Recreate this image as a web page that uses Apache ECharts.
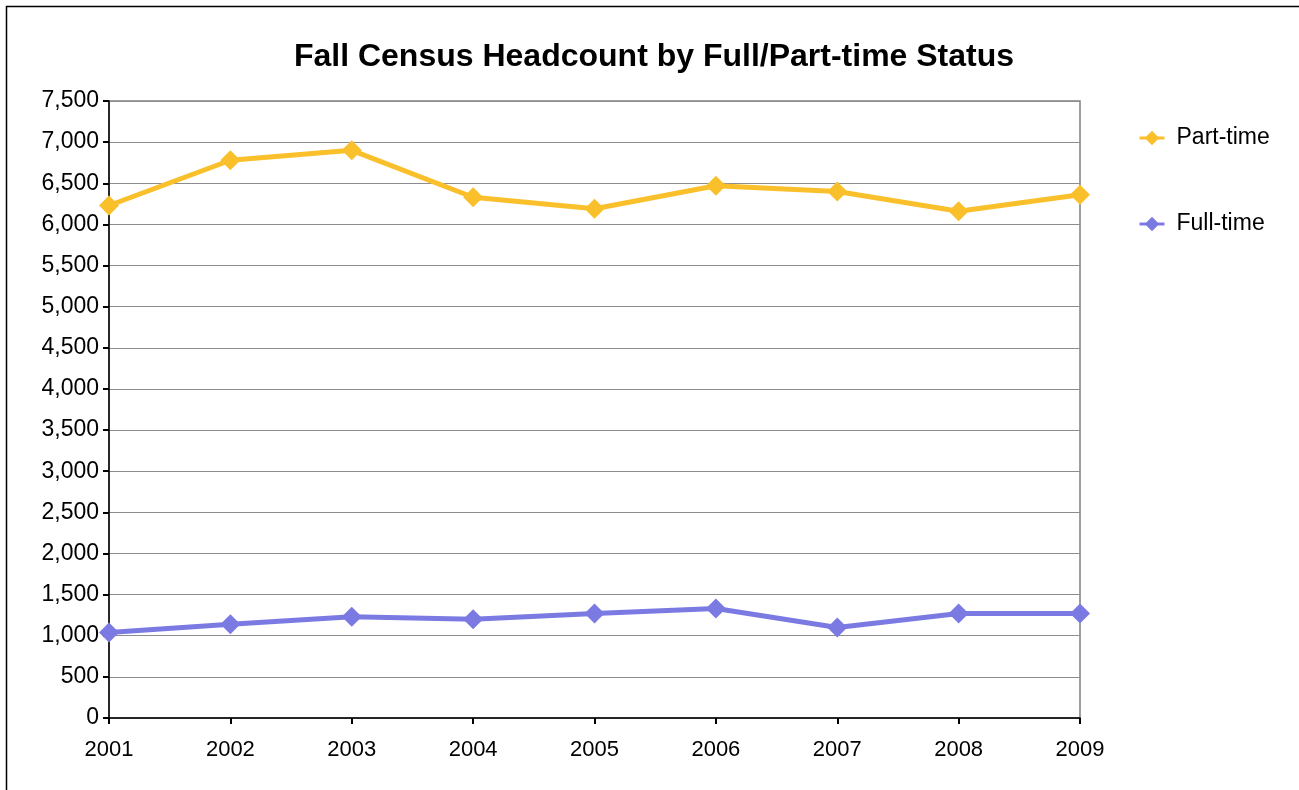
<!DOCTYPE html>
<html>
<head>
<meta charset="utf-8">
<script src="https://cdn.jsdelivr.net/npm/echarts@6/dist/echarts.min.js"></script>
<style>
html, body { margin: 0; padding: 0; background: #fff; }
#chart { width: 1299px; height: 790px; }
</style>
</head>
<body>
<div id="chart"></div>
<script>
// years on the x axis
const years = ['2001', '2002', '2003', '2004', '2005', '2006', '2007', '2008', '2009'];
// headcounts
const partTime = [6230, 6780, 6900, 6330, 6190, 6470, 6400, 6160, 6360];
const fullTime = [1040, 1140, 1230, 1200, 1270, 1330, 1100, 1270, 1270];
const seriesNames = ['Part-time', 'Full-time'];

const fontFamily = 'Liberation Sans, Arial, sans-serif';

const myChart = echarts.init(document.getElementById('chart'));
const option = {
    animation: false,
    backgroundColor: '#fff',
    textStyle: { fontFamily: fontFamily },
    title: {
        text: 'Fall Census Headcount by Full/Part-time Status',
        left: 649,
        top: 36,
        textAlign: 'center',
        textStyle: {
            color: '#000',
            fontSize: 32,
            fontWeight: 'bold',
            fontFamily: fontFamily
        }
    },
    // outer frame of the chart
    graphic: [{
        type: 'rect',
        shape: { x: 6.5, y: 6.5, width: 1310, height: 800 },
        style: { fill: 'none', stroke: '#000', lineWidth: 1.5 },
        silent: true
    }],
    legend: {
        orient: 'vertical',
        left: 1133,
        top: 121,
        itemWidth: 25,
        itemHeight: 18,
        itemGap: 62,
        data: seriesNames,
        lineStyle: { width: 3 },
        textStyle: {
            color: '#000',
            fontSize: 23,
            lineHeight: 24,
            padding: [0, 0, 0, 7],
            fontFamily: fontFamily
        }
    },
    grid: {
        show: true,
        left: 109,
        right: 219,
        top: 101,
        bottom: 72,
        borderColor: '#808080',
        borderWidth: 1.5,
        containLabel: false
    },
    xAxis: {
        type: 'category',
        boundaryGap: false,
        data: years,
        axisLine: { lineStyle: { color: '#000', width: 1.5 } },
        axisTick: { show: true, length: 6, lineStyle: { color: '#000', width: 2 } },
        axisLabel: {
            color: '#000',
            fontSize: 22,
            margin: 21,
            fontFamily: fontFamily
        },
        splitLine: { show: false }
    },
    yAxis: {
        type: 'value',
        min: 0,
        max: 7500,
        interval: 500,
        axisLine: { show: true, lineStyle: { color: '#000', width: 1.5 } },
        axisTick: { show: true, length: 6, lineStyle: { color: '#000', width: 2 } },
        axisLabel: {
            color: '#000',
            fontSize: 23,
            margin: 10,
            fontFamily: fontFamily,
            formatter: (v) => v.toLocaleString('en-US')
        },
        splitLine: { show: true, lineStyle: { color: '#8c8c8c', width: 1.2 } }
    },
    series: [{
        name: seriesNames[0],
        type: 'line',
        data: partTime,
        symbol: 'diamond',
        symbolSize: 20,
        color: '#F9C02C',
        lineStyle: { width: 5, color: '#F9C02C' },
        itemStyle: { color: '#F9C02C' }
    }, {
        name: seriesNames[1],
        type: 'line',
        data: fullTime,
        symbol: 'diamond',
        symbolSize: 20,
        color: '#7B7AE3',
        lineStyle: { width: 5, color: '#7B7AE3' },
        itemStyle: { color: '#7B7AE3' }
    }]
};
myChart.setOption(option);
</script>
</body>
</html>
